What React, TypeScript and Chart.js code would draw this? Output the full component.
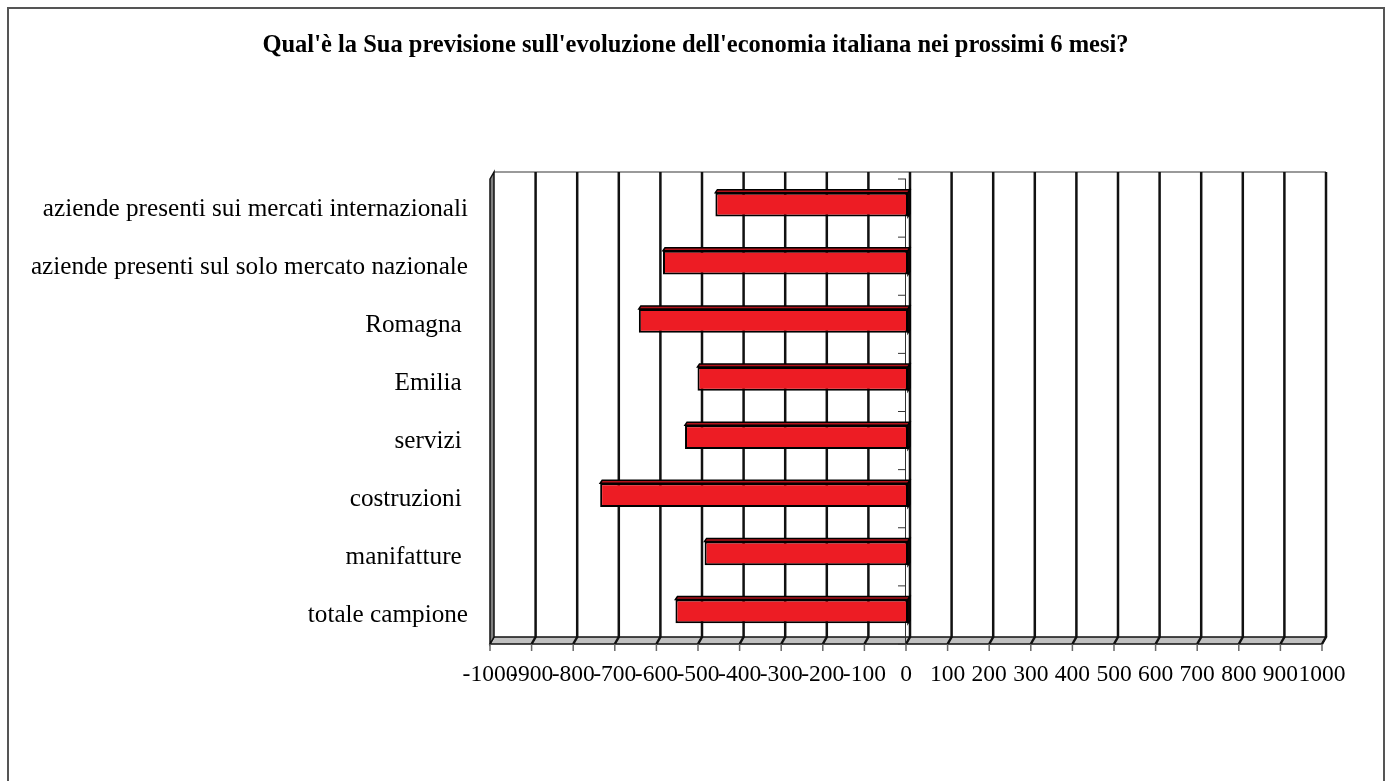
import React, { useEffect, useRef } from "react";
import { Chart, registerables } from "chart.js";

Chart.register(...registerables);

const TITLE = "Qual'è la Sua previsione sull'evoluzione dell'economia italiana nei prossimi 6 mesi?";

// Excel order (bottom to top)
const categories = [
  "totale campione",
  "manifatture ",
  "costruzioni ",
  "servizi ",
  "Emilia ",
  "Romagna ",
  "aziende presenti sul solo mercato nazionale",
  "aziende presenti sui mercati internazionali",
];

const values = [-559, -489, -740, -536, -506, -647, -589, -463];

const xMin = -1000;
const xMax = 1000;
const xStep = 100;

// half depth of the 3D box (chart area is the middle plane)
const HX = 2;
const HY = 3.5;

const wallPlugin = {
  id: "wall3d",
  beforeDatasetsDraw(chart: any) {
    const { ctx, chartArea, scales } = chart;
    const xs = scales.x;
    const top = chartArea.top;
    const bottom = chartArea.bottom;
    const left = xs.getPixelForValue(xMin);
    const right = xs.getPixelForValue(xMax);
    const fTop = top + HY, fBot = bottom + HY, bTop = top - HY, bBot = bottom - HY;
    ctx.save();
    ctx.strokeStyle = "#9a9a9a";
    ctx.lineWidth = 2;
    ctx.beginPath();
    ctx.moveTo(left + HX, bTop);
    ctx.lineTo(right + HX, bTop);
    ctx.stroke();
    // floor
    ctx.fillStyle = "#c0c0c0";
    ctx.strokeStyle = "#111";
    ctx.lineWidth = 1.5;
    ctx.beginPath();
    ctx.moveTo(left - HX, fBot);
    ctx.lineTo(right - HX, fBot);
    ctx.lineTo(right + HX, bBot);
    ctx.lineTo(left + HX, bBot);
    ctx.closePath();
    ctx.fill();
    ctx.stroke();
    // left wall
    ctx.fillStyle = "#808080";
    ctx.beginPath();
    ctx.moveTo(left - HX, fTop);
    ctx.lineTo(left + HX, bTop);
    ctx.lineTo(left + HX, bBot);
    ctx.lineTo(left - HX, fBot);
    ctx.closePath();
    ctx.fill();
    ctx.stroke();
    // gridlines on back wall and floor
    ctx.strokeStyle = "#111";
    ctx.lineWidth = 2.5;
    for (let v = xMin + xStep; v <= xMax; v += xStep) {
      const x = xs.getPixelForValue(v);
      ctx.beginPath();
      ctx.moveTo(x + HX, bTop);
      ctx.lineTo(x + HX, bBot);
      ctx.lineTo(x - HX, fBot);
      ctx.stroke();
    }
    // tick marks below the floor
    ctx.strokeStyle = "#666";
    ctx.lineWidth = 1.5;
    for (let v = xMin; v <= xMax; v += xStep) {
      const x = xs.getPixelForValue(v) - HX;
      ctx.beginPath();
      ctx.moveTo(x, fBot);
      ctx.lineTo(x, fBot + 7);
      ctx.stroke();
    }
    // category axis at zero
    const x0 = xs.getPixelForValue(0) - HX;
    ctx.strokeStyle = "#333";
    ctx.lineWidth = 1;
    ctx.beginPath();
    ctx.moveTo(x0 - 0.5, fTop);
    ctx.lineTo(x0 - 0.5, fBot);
    ctx.stroke();
    const n = categories.length;
    for (let i = 0; i <= n; i++) {
      const y = fTop + ((fBot - fTop) * i) / n;
      ctx.beginPath();
      ctx.moveTo(x0 - 8, y);
      ctx.lineTo(x0, y);
      ctx.stroke();
    }
    ctx.restore();
  },
  afterDatasetsDraw(chart: any) {
    const { ctx } = chart;
    const meta = chart.getDatasetMeta(0);
    const bdx = 2;
    const bdy = 3;
    ctx.save();
    ctx.lineWidth = 1.5;
    ctx.strokeStyle = "#000";
    meta.data.forEach((el: any) => {
      const p = el.getProps(["x", "y", "base", "height"], true);
      const l = Math.min(p.x, p.base);
      const r = Math.max(p.x, p.base);
      const t = p.y - p.height / 2;
      const b = p.y + p.height / 2;
      ctx.fillStyle = "#b3121a";
      ctx.beginPath();
      ctx.moveTo(l, t);
      ctx.lineTo(l + bdx, t - bdy);
      ctx.lineTo(r + bdx, t - bdy);
      ctx.lineTo(r, t);
      ctx.closePath();
      ctx.fill();
      ctx.stroke();
      ctx.fillStyle = "#3a0000";
      ctx.beginPath();
      ctx.moveTo(r, t);
      ctx.lineTo(r + bdx, t - bdy);
      ctx.lineTo(r + bdx, b - bdy);
      ctx.lineTo(r, b);
      ctx.closePath();
      ctx.fill();
      ctx.stroke();
    });
    ctx.restore();
  },
  afterDraw(chart: any) {
    const { ctx } = chart;
    ctx.save();
    ctx.strokeStyle = "#555";
    ctx.lineWidth = 2;
    ctx.strokeRect(8, 8, 1376, 800);
    ctx.fillStyle = "#000";
    ctx.font = 'bold 24.5px "Liberation Serif"';
    ctx.textAlign = "center";
    ctx.textBaseline = "middle";
    ctx.fillText(TITLE, 695.5, 46);
    ctx.restore();
  },
};

export default function App() {
  const ref = useRef<HTMLCanvasElement>(null);
  useEffect(() => {
    if (!ref.current) return;
    const chart = new Chart(ref.current, {
      type: "bar",
      data: {
        labels: categories,
        datasets: [
          {
            data: values,
            backgroundColor: "#ed1c24",
            borderColor: "#000",
            borderWidth: 2,
            borderSkipped: false,
            barPercentage: 0.41,
            categoryPercentage: 1,
          },
        ],
      },
      options: {
        indexAxis: "y",
        animation: false,
        responsive: false,
        layout: { padding: { left: 0, right: 67, top: 175.5, bottom: 90.5 } },
        plugins: { legend: { display: false }, tooltip: { enabled: false }, title: { display: false } },
        scales: {
          x: {
            type: "linear",
            min: xMin,
            max: xMax,
            afterFit: (s: any) => {
              s.height = 50;
            },
            ticks: {
              stepSize: xStep,
              autoSkip: false,
              maxRotation: 0,
              minRotation: 0,
              color: "#000",
              padding: 20,
              labelOffset: -HX,
              font: { family: '"Liberation Serif"', size: 23.5 },
              callback: (v: any) => String(v),
            },
            grid: { display: false, drawTicks: false },
            border: { display: false },
          },
          y: {
            reverse: true,
            afterFit: (s: any) => {
              s.width = 492;
            },
            ticks: {
              color: "#000",
              padding: 24,
              labelOffset: 4.4,
              font: { family: '"Liberation Serif"', size: 25.2 },
            },
            grid: { display: false, drawTicks: false },
            border: { display: false },
          },
        },
      },
      plugins: [wallPlugin],
    });
    return () => chart.destroy();
  }, []);
  return (
    <canvas
      ref={ref}
      width={1391}
      height={781}
      style={{ position: "fixed", left: 0, top: 0, width: 1391, height: 781, background: "#fff" }}
    />
  );
}
